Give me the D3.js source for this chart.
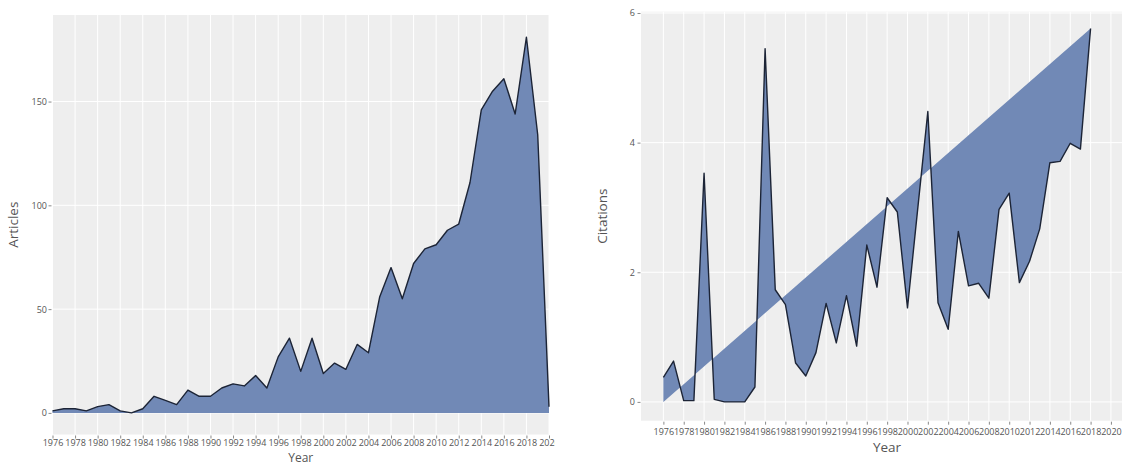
<!DOCTYPE html>
<html>
<head>
<meta charset="utf-8">
<script src="https://cdn.jsdelivr.net/npm/d3@7/dist/d3.min.js"></script>
<style>
  html, body { margin: 0; padding: 0; background: #ffffff; }
  svg { display: block; }
  text { font-family: "Open Sans", "Liberation Sans", Arial, sans-serif; }
</style>
</head>
<body>
<svg id="chart" width="1122" height="466"></svg>
<script>
// ---------- data ----------
const articleYears = [1976,1977,1978,1979,1980,1981,1982,1983,1984,1985,1986,1987,1988,1989,1990,
  1991,1992,1993,1994,1995,1996,1997,1998,1999,2000,2001,2002,2003,2004,2005,2006,2007,2008,2009,
  2010,2011,2012,2013,2014,2015,2016,2017,2018,2019,2020];
const articles = [1,2,2,1,3,4,1,0,2,8,6,4,11,8,8,
  12,14,13,18,12,27,36,20,36,19,24,21,33,29,56,70,55,72,79,
  81,88,91,111,146,155,161,144,181,134,3];

const citationYears = [1976,1977,1978,1979,1980,1981,1982,1983,1984,1985,1986,1987,1988,1989,1990,
  1991,1992,1993,1994,1995,1996,1997,1998,1999,2000,2001,2002,2003,2004,2005,2006,2007,2008,2009,
  2010,2011,2012,2013,2014,2015,2016,2017,2018];
const citations = [0.38,0.63,0.02,0.02,3.53,0.04,0,0,0,0.23,5.45,1.73,1.5,0.6,0.4,
  0.76,1.52,0.91,1.64,0.86,2.42,1.77,3.15,2.93,1.45,2.97,4.48,1.53,1.12,2.63,1.79,1.83,1.6,2.97,
  3.22,1.84,2.17,2.67,3.69,3.71,3.99,3.9,5.76];

const xTickYears = [1976,1978,1980,1982,1984,1986,1988,1990,1992,1994,1996,1998,2000,2002,2004,
  2006,2008,2010,2012,2014,2016,2018,2020];
const articleTicks = [0,50,100,150];
const citationTicks = [0,2,4,6];

// ---------- style ----------
const PANEL_BG = "#eeeeee";
const GRID = "#ffffff";
const FILL = "#7189b6";
const LINE = "#1c2436";
const TICK_TEXT = "#555555";
const TITLE = "#555555";

const svg = d3.select("#chart");
const defs = svg.append("defs");
defs.append("clipPath").attr("id", "leftClip")
  .append("rect").attr("x", 0).attr("y", 0).attr("width", 555).attr("height", 466);

// ================= LEFT CHART =================
const L = { x0: 52.5, x1: 549, y0: 15, y1: 434.5 };
const gL = svg.append("g").attr("clip-path", "url(#leftClip)");

const xL = d3.scaleLinear().domain([1976, 2020]).range([L.x0, L.x1]);
const yL = d3.scaleLinear().domain([-10.4, 191.7]).range([L.y1, L.y0]);

gL.append("rect").attr("x", L.x0).attr("y", L.y0)
  .attr("width", L.x1 - L.x0).attr("height", L.y1 - L.y0).attr("fill", PANEL_BG);

gL.append("g").selectAll("line").data(xTickYears).join("line")
  .attr("x1", d => xL(d)).attr("x2", d => xL(d))
  .attr("y1", L.y0).attr("y2", L.y1)
  .attr("stroke", GRID).attr("stroke-width", 1);
gL.append("g").selectAll("line").data(articleTicks).join("line")
  .attr("x1", L.x0).attr("x2", L.x1)
  .attr("y1", d => yL(d)).attr("y2", d => yL(d))
  .attr("stroke", GRID).attr("stroke-width", 1);

const artData = articleYears.map((y, i) => ({ year: y, v: articles[i] }));
gL.append("path").datum(artData)
  .attr("fill", FILL)
  .attr("d", d3.area().x(d => xL(d.year)).y0(yL(0)).y1(d => yL(d.v)));
gL.append("path").datum(artData)
  .attr("fill", "none").attr("stroke", LINE).attr("stroke-width", 1.4)
  .attr("stroke-linejoin", "round")
  .attr("d", d3.line().x(d => xL(d.year)).y(d => yL(d.v)));

const axXL = gL.append("g").attr("transform", `translate(0,${L.y1 + 1})`)
  .call(d3.axisBottom(xL).tickValues(xTickYears).tickFormat(d3.format("d")).tickSize(3).tickPadding(1));
const axYL = gL.append("g").attr("transform", `translate(${L.x0 - 1},0)`)
  .call(d3.axisLeft(yL).tickValues(articleTicks).tickFormat(d3.format("d")).tickSize(3).tickPadding(1.5));

gL.append("text").attr("x", (L.x0 + L.x1) / 2).attr("y", 462)
  .attr("text-anchor", "middle").attr("font-size", 12).attr("fill", TITLE).text("Year");
gL.append("text").attr("transform", `translate(18,${(L.y0 + L.y1) / 2}) rotate(-90)`)
  .attr("text-anchor", "middle").attr("font-size", 13.5).attr("fill", TITLE).text("Articles");

// ================= RIGHT CHART =================
const R = { x0: 641, x1: 1133.3, y0: 11.7, y1: 420.7 };
const gR = svg.append("g");

const xR = d3.scaleLinear().domain([1973.8, 2022.2]).range([R.x0, R.x1]);
const yR = d3.scaleLinear().domain([-0.29, 6.02]).range([R.y1, R.y0]);

gR.append("rect").attr("x", R.x0).attr("y", R.y0)
  .attr("width", R.x1 - R.x0).attr("height", R.y1 - R.y0).attr("fill", PANEL_BG);

gR.append("g").selectAll("line").data(xTickYears).join("line")
  .attr("x1", d => xR(d)).attr("x2", d => xR(d))
  .attr("y1", R.y0).attr("y2", R.y1)
  .attr("stroke", GRID).attr("stroke-width", 1);
gR.append("g").selectAll("line").data(citationTicks).join("line")
  .attr("x1", R.x0).attr("x2", R.x1)
  .attr("y1", d => yR(d)).attr("y2", d => yR(d))
  .attr("stroke", GRID).attr("stroke-width", 1);

const citData = citationYears.map((y, i) => ({ year: y, v: citations[i] }));
// polygon: the series, closed back to (first year, 0)
const polyPts = citData.map(d => [xR(d.year), yR(d.v)]);
polyPts.push([xR(citationYears[0]), yR(0)]);
gR.append("path")
  .attr("fill", FILL)
  .attr("d", "M" + polyPts.map(p => p.join(",")).join("L") + "Z");
gR.append("path").datum(citData)
  .attr("fill", "none").attr("stroke", LINE).attr("stroke-width", 1.4)
  .attr("stroke-linejoin", "round")
  .attr("d", d3.line().x(d => xR(d.year)).y(d => yR(d.v)));

const axXR = gR.append("g").attr("transform", `translate(0,${R.y1 + 1})`)
  .call(d3.axisBottom(xR).tickValues(xTickYears).tickFormat(d3.format("d")).tickSize(3).tickPadding(3.5));
const axYR = gR.append("g").attr("transform", `translate(${R.x0 - 0.5},0)`)
  .call(d3.axisLeft(yR).tickValues(citationTicks).tickFormat(d3.format("d")).tickSize(3).tickPadding(2.5));

gR.append("text").attr("x", 887).attr("y", 452)
  .attr("text-anchor", "middle").attr("font-size", 13.5).attr("fill", TITLE).text("Year");
gR.append("text").attr("transform", `translate(607,${(R.y0 + R.y1) / 2}) rotate(-90)`)
  .attr("text-anchor", "middle").attr("font-size", 13.5).attr("fill", TITLE).text("Citations");

// axis styling
[axXL, axYL, axXR, axYR].forEach(a => {
  a.select(".domain").remove();
  a.selectAll(".tick line").attr("stroke", "#8a8a8a").attr("stroke-width", 1);
  a.selectAll(".tick text").attr("fill", TICK_TEXT).attr("font-size", 9)
    .attr("font-family", "'Open Sans', 'Liberation Sans', Arial, sans-serif");
});
</script>
</body>
</html>
